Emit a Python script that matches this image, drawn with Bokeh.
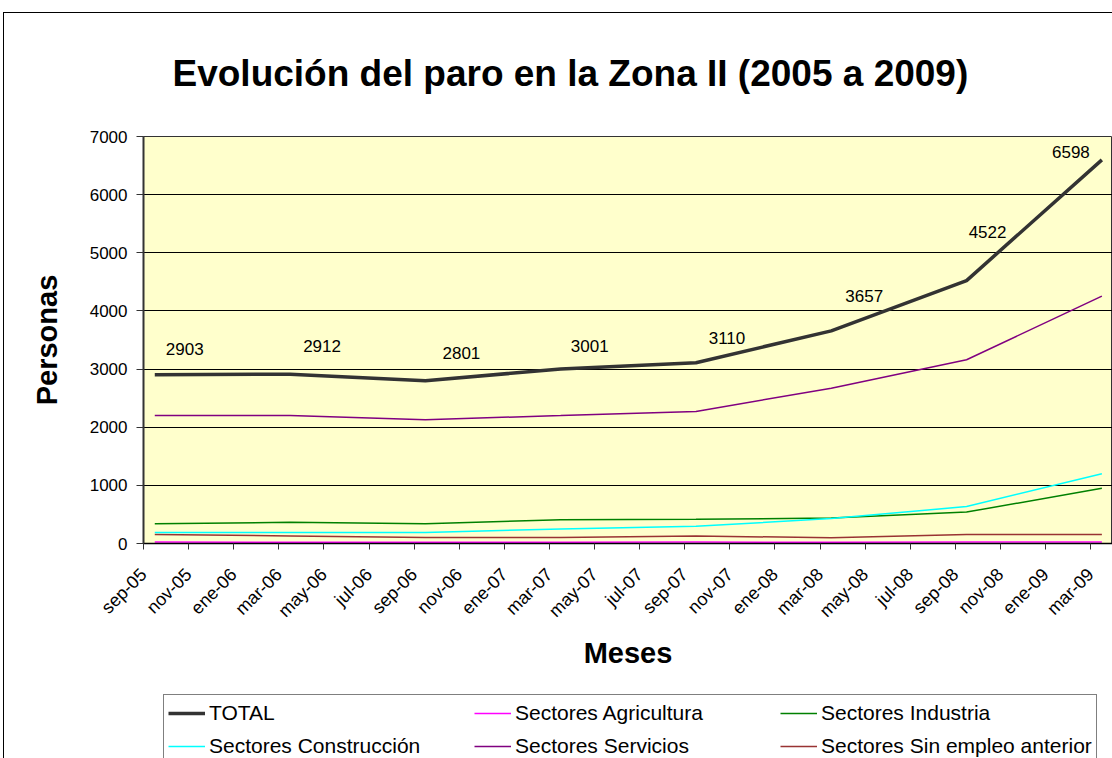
import math
from bokeh.plotting import figure
from bokeh.layouts import column
from bokeh.models import (Range1d, FixedTicker, Legend, LegendItem, ColumnDataSource,
                          InlineStyleSheet)
from bokeh.core.properties import value
from bokeh.embed import file_html
from bokeh.resources import INLINE

# ---- data ----
meses_ticks = ["sep-05", "nov-05", "ene-06", "mar-06", "may-06", "jul-06", "sep-06",
               "nov-06", "ene-07", "mar-07", "may-07", "jul-07", "sep-07", "nov-07",
               "ene-08", "mar-08", "may-08", "jul-08", "sep-08", "nov-08", "ene-09", "mar-09"]
fechas = ["sep-05", "mar-06", "sep-06", "mar-07", "sep-07", "mar-08", "sep-08", "mar-09"]
total = [2903, 2912, 2801, 3001, 3110, 3657, 4522, 6598]
agricultura = [25, 22, 20, 22, 25, 22, 25, 25]
industria = [340, 365, 340, 410, 415, 440, 540, 950]
construccion = [190, 190, 190, 250, 295, 430, 635, 1200]
servicios = [2200, 2200, 2130, 2200, 2272, 2670, 3160, 4255]
sin_empleo = [155, 131, 105, 105, 131, 97, 155, 155]

# label placement (screen pixels, relative to each point)
label_dx = [30, 32, 36, 29, 31, 33, 21, -31]
label_dy = [-26, -28, -28, -23, -25, -35, -49, -8]

FONT = "Liberation Sans"

# months since sep-05, data taken mid-month
tick_pos = [2 * i for i in range(len(meses_ticks))]
xs = [2 * meses_ticks.index(f) + 0.5 for f in fechas]

W = 1112
H1, H2 = 692, 66
LEFT, TOP, BOTTOM = 143, 136, 149
frame_w = W - LEFT
px_per_month = 22.55

# thin chart-area border (left and top edges, as in the original)
border_p = InlineStyleSheet(css=""":host::after { content: ""; position: absolute;
  left: 3px; top: 12px; right: -20px; bottom: -20px; border-left: 1px solid #000;
  border-top: 1px solid #000; pointer-events: none; z-index: 50; }""")
border_q = InlineStyleSheet(css=""":host::after { content: ""; position: absolute;
  left: 3px; top: 0px; bottom: 0px; width: 0px; border-left: 1px solid #000;
  pointer-events: none; z-index: 50; }""")

p = figure(width=W, height=H1, output_backend="svg", toolbar_location=None,
           x_range=Range1d(0, frame_w / px_per_month), y_range=Range1d(0, 7000),
           min_border_left=LEFT, min_border_top=TOP, min_border_bottom=BOTTOM,
           min_border_right=0, background_fill_color="#FFFFCC",
           border_fill_color="white", outline_line_color="#333333")
p.stylesheets = [border_p]

p.title.text = "Evolución del paro en la Zona II (2005 a 2009)"
p.title.text_font = FONT
p.title.text_font_size = "37px"
p.title.text_font_style = "bold"
p.title.text_color = "black"
p.title.align = "left"
p.title.offset = 29
p.title.standoff = 86

# grids
p.xgrid.grid_line_color = None
p.ygrid.grid_line_color = "black"
p.ygrid.grid_line_width = 1
p.ygrid.ticker = FixedTicker(ticks=list(range(0, 7001, 1000)))

# y axis
p.yaxis.ticker = FixedTicker(ticks=list(range(0, 7001, 1000)))
p.yaxis.axis_label = "Personas"
p.yaxis.axis_label_text_font = FONT
p.yaxis.axis_label_text_font_size = "29px"
p.yaxis.axis_label_text_font_style = "bold"
p.yaxis.axis_label_text_color = "black"
p.yaxis.axis_label_standoff = 24
p.yaxis.major_label_text_font = FONT
p.yaxis.major_label_text_font_size = "17px"
p.yaxis.major_label_text_color = "black"
p.yaxis.major_label_standoff = 9
p.yaxis.axis_line_color = "#333333"
p.yaxis.axis_line_width = 2
p.yaxis.major_tick_line_color = "#333333"
p.yaxis.major_tick_in = 0
p.yaxis.major_tick_out = 7
p.yaxis.minor_tick_line_color = None

# x axis
p.xaxis.ticker = FixedTicker(ticks=tick_pos)
p.xaxis.major_label_overrides = {t: lab for t, lab in zip(tick_pos, meses_ticks)}
p.xaxis.major_label_orientation = math.pi / 4
p.xaxis.axis_label = "Meses"
p.xaxis.axis_label_text_font = FONT
p.xaxis.axis_label_text_font_size = "29px"
p.xaxis.axis_label_text_font_style = "bold"
p.xaxis.axis_label_text_color = "black"
p.xaxis.axis_label_standoff = 6
p.xaxis.major_label_text_font = FONT
p.xaxis.major_label_text_font_size = "18px"
p.xaxis.major_label_text_color = "black"
p.xaxis.major_label_standoff = 22
p.xaxis.axis_line_color = "black"
p.xaxis.axis_line_width = 1.5
p.xaxis.major_tick_line_color = "#333333"
p.xaxis.major_tick_in = 0
p.xaxis.major_tick_out = 6
p.xaxis.minor_tick_line_color = None

series = [
    ("TOTAL", total, "#333333", 3.5),
    ("Sectores Agricultura", agricultura, "#FF00FF", 1.5),
    ("Sectores Industria", industria, "#008000", 1.5),
    ("Sectores Construcción", construccion, "#00FFFF", 1.5),
    ("Sectores Servicios", servicios, "#800080", 1.5),
    ("Sectores Sin empleo anterior", sin_empleo, "#993333", 1.5),
]

draw_order = [5, 1, 2, 3, 4, 0]
for i in draw_order:
    name, ys, color, lw = series[i]
    p.line(xs, ys, line_color=color, line_width=lw)

lab_src = ColumnDataSource(dict(x=xs, y=total, t=[str(v) for v in total],
                                dx=label_dx, dy=label_dy))
p.text(x="x", y="y", text="t", x_offset="dx", y_offset="dy", source=lab_src,
       text_font=value(FONT), text_font_size="17px", text_color="black",
       text_align="center", text_baseline="middle")

# ---- legend strip (separate figure below the chart) ----
q = figure(width=W, height=H2, output_backend="svg", toolbar_location=None,
           x_axis_type=None, y_axis_type=None,
           x_range=Range1d(100, 101), y_range=Range1d(-10, -9),
           min_border=0, min_border_left=0, min_border_right=0,
           min_border_top=0, min_border_bottom=0,
           outline_line_color=None, background_fill_color="white",
           border_fill_color="white")
q.stylesheets = [border_q]
q.xgrid.grid_line_color = None
q.ygrid.grid_line_color = None

legend_items = {}
for name, ys, color, lw in series:
    r = q.line(xs, ys, line_color=color, line_width=lw)
    legend_items[name] = LegendItem(label=name, renderers=[r])

# legend fills column by column: order so rows read as in the original
names = [s[0] for s in series]
col_major = [names[0], names[3], names[1], names[4], names[2], names[5]]
items = [legend_items[n] for n in col_major]

PAD, GH, SP = 4, 28, 5
LEG_H = 2 * PAD + 2 * GH + SP
legend = Legend(items=items, ncols=3, location=(20, H2 - 4 - LEG_H),
                label_text_font=FONT, label_text_font_size="21px",
                label_text_color="black",
                glyph_width=37, glyph_height=GH, label_height=GH,
                label_width=260, label_standoff=4, spacing=SP, padding=PAD,
                margin=0, border_line_color="black", border_line_width=1,
                background_fill_color="white", background_fill_alpha=1.0)
q.add_layout(legend, "center")

layout = column(p, q, spacing=0)
open("out.html", "w").write(file_html(layout, INLINE))
